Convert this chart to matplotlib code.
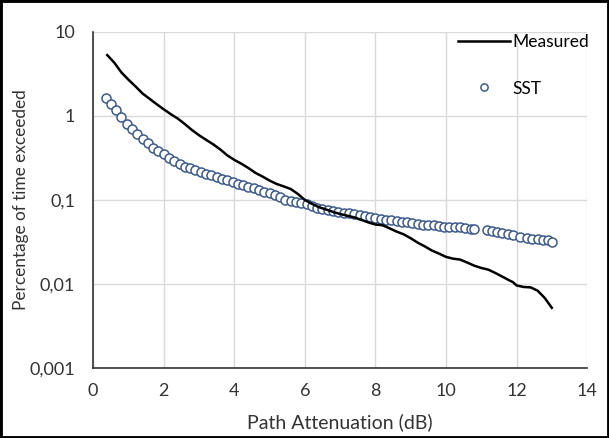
import matplotlib
matplotlib.use("Agg")
from matplotlib import pyplot as plt
from matplotlib.patches import Rectangle
from matplotlib.ticker import FixedLocator, NullLocator

# measured attenuation statistics (dB, % of time exceeded)
measured_x = [0.40, 0.60, 0.80, 1.00, 1.20, 1.40, 1.60, 1.80, 2.00, 2.20, 2.40, 2.60,
              2.80, 3.00, 3.20, 3.40, 3.60, 3.80, 4.00, 4.20, 4.40, 4.60, 4.80, 5.00,
              5.20, 5.40, 5.60, 5.80, 6.00, 6.20, 6.40, 6.60, 6.80, 7.00, 7.20, 7.40,
              7.60, 7.80, 8.00, 8.20, 8.40, 8.60, 8.80, 9.00, 9.20, 9.40, 9.60, 9.80,
              10.00, 10.20, 10.40, 10.60, 10.80, 11.00, 11.20, 11.40, 11.60, 11.80,
              11.90, 12.00, 12.20, 12.40, 12.60, 12.80, 13.00]
measured_y = [5.3, 4.3, 3.3, 2.7, 2.25, 1.85, 1.6, 1.38, 1.2, 1.05, 0.93, 0.8,
              0.68, 0.59, 0.52, 0.46, 0.40, 0.34, 0.30, 0.27, 0.24, 0.21, 0.19, 0.17,
              0.155, 0.145, 0.135, 0.118, 0.10, 0.09, 0.082, 0.077, 0.072, 0.068, 0.065, 0.062,
              0.058, 0.054, 0.051, 0.050, 0.046, 0.042, 0.039, 0.035, 0.031, 0.028, 0.025, 0.023,
              0.021, 0.020, 0.0195, 0.018, 0.0165, 0.0155, 0.0148, 0.0135, 0.0122, 0.011,
              0.0105, 0.0096, 0.0092, 0.0091, 0.0083, 0.0068, 0.0052]

# SST model
sst_x = [0.35, 0.50, 0.65, 0.80, 0.95, 1.10, 1.25, 1.40, 1.55, 1.70, 1.85, 2.00,
         2.15, 2.30, 2.45, 2.60, 2.75, 2.90, 3.05, 3.20, 3.35, 3.50, 3.65, 3.80,
         3.95, 4.10, 4.25, 4.40, 4.55, 4.70, 4.85, 5.00, 5.15, 5.30, 5.45, 5.60,
         5.75, 5.90, 6.05, 6.20, 6.35, 6.50, 6.65, 6.80, 6.95, 7.10, 7.25, 7.40,
         7.55, 7.70, 7.85, 8.00, 8.15, 8.30, 8.45, 8.60, 8.75, 8.90, 9.05, 9.20,
         9.35, 9.50, 9.65, 9.80, 9.95, 10.10, 10.25, 10.40, 10.55, 10.70, 10.80,
         11.15, 11.30, 11.45, 11.60, 11.75, 11.90, 12.10, 12.30, 12.45, 12.60,
         12.75, 12.90, 13.00]
sst_y = [1.64, 1.38, 1.18, 0.98, 0.80, 0.70, 0.61, 0.53, 0.47, 0.42, 0.38, 0.35,
         0.32, 0.29, 0.27, 0.25, 0.24, 0.225, 0.215, 0.205, 0.197, 0.19, 0.18, 0.172,
         0.163, 0.156, 0.150, 0.143, 0.137, 0.131, 0.126, 0.121, 0.116, 0.108, 0.100, 0.097,
         0.094, 0.092, 0.089, 0.085, 0.081, 0.078, 0.076, 0.074, 0.072, 0.070, 0.069, 0.068,
         0.066, 0.064, 0.062, 0.061, 0.060, 0.058, 0.057, 0.056, 0.055, 0.054, 0.053, 0.052,
         0.051, 0.051, 0.050, 0.049, 0.048, 0.048, 0.047, 0.047, 0.046, 0.045, 0.045,
         0.044, 0.043, 0.041, 0.040, 0.039, 0.038, 0.036, 0.035, 0.034, 0.034,
         0.033, 0.033, 0.032]

y_ticks = [0.001, 0.01, 0.1, 1, 10]
y_tick_labels = ['0,001', '0,01', '0,1', '1', '10']
x_ticks = [0, 2, 4, 6, 8, 10, 12, 14]

plt.rcParams['font.family'] = ['Lato', 'DejaVu Sans']
txt = '#333333'

fig = plt.figure(figsize=(6.09, 4.38), dpi=100)
ax = fig.add_axes([0.153, 0.160, 0.811, 0.767])

ax.plot(measured_x, measured_y, color='black', lw=1.8, label='Measured', zorder=3)
ax.plot(sst_x, sst_y, ls='none', marker='o', ms=6.5, mfc='white', mec='#3d5a8c',
        mew=1.1, label='SST', zorder=2)

ax.set_yscale('log')
ax.set_ylim(0.001, 10)
ax.set_xlim(0, 14)
ax.yaxis.set_major_locator(FixedLocator(y_ticks))
ax.yaxis.set_minor_locator(NullLocator())
ax.set_yticklabels(y_tick_labels)
ax.set_xticks(x_ticks)
ax.tick_params(length=0, labelsize=13, colors=txt)
ax.tick_params(axis='y', pad=13)
ax.tick_params(axis='x', pad=11)
ax.grid(True, color='#d9d9d9', lw=1)
ax.set_axisbelow(True)
for s in ['top', 'right']:
    ax.spines[s].set_visible(False)
for s in ['left', 'bottom']:
    ax.spines[s].set_color(txt)
    ax.spines[s].set_linewidth(1.2)

ax.set_xlabel('Path Attenuation (dB)', fontsize=14, color=txt, va='center')
ax.set_ylabel('Percentage of time exceeded', fontsize=12.4, color=txt, va='center')
ax.xaxis.set_label_coords(0.5, -0.161)
ax.yaxis.set_label_coords(-0.146, 0.5)

leg = ax.legend(loc='upper right', bbox_to_anchor=(1.035, 1.04), frameon=False,
                fontsize=12.5, labelspacing=1.75, handlelength=3.0, handletextpad=0.1,
                markerscale=0.8)

# black frame round the whole picture
fig.patches.append(Rectangle((0, 0), 1, 1, transform=fig.transFigure, fill=False,
                             edgecolor='black', lw=3.5, zorder=10))

fig.savefig('out.png', dpi=100)
